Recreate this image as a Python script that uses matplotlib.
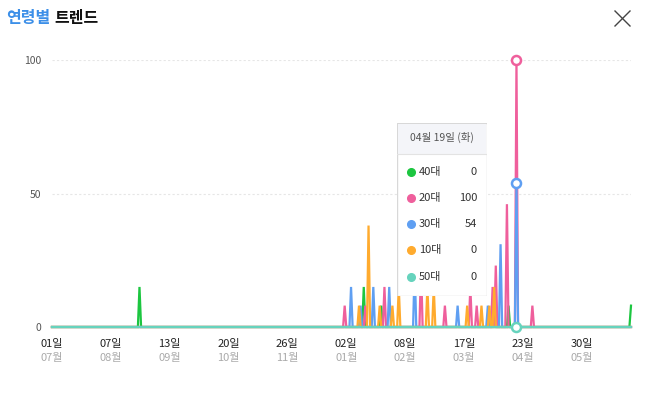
import matplotlib
matplotlib.use("Agg")
import matplotlib.pyplot as plt
from matplotlib.lines import Line2D
from matplotlib.patches import Rectangle
import numpy as np

plt.rcParams['font.family'] = ['Noto Sans CJK KR', 'DejaVu Sans']

# daily series, 2021-07-01 .. 2022-06-30 (365 days); only non-zero days listed
n_days = 365
series_names = ['40대', '20대', '30대', '10대', '50대']
series_colors = ['#1cc640', '#ef5f9c', '#5f9ff2', '#ffab2e', '#66d3bd']

spike_days_40 = [55, 196, 207, 287, 364]
spike_vals_40 = [15, 15, 8, 8, 8]
spike_days_20 = [184, 197, 209, 232, 247, 263, 267, 277, 279, 286, 292, 302]
spike_vals_20 = [8, 8, 15, 23, 8, 15, 8, 15, 23, 46, 100, 8]
spike_days_30 = [188, 194, 202, 212, 228, 255, 274, 282, 292]
spike_vals_30 = [15, 8, 15, 15, 23, 8, 8, 31, 54]
spike_days_10 = [193, 199, 206, 214, 218, 236, 240, 261, 270, 275, 278]
spike_vals_10 = [8, 38, 8, 8, 15, 15, 15, 8, 8, 8, 15]
spike_days_50 = []
spike_vals_50 = []

tick_days = [0, 37, 74, 111, 148, 185, 222, 259, 296, 333]
tick_day_labels = ['01일', '07일', '13일', '20일', '26일', '02일', '08일', '17일', '23일', '30일']
tick_month_labels = ['07월', '08월', '09월', '10월', '11월', '01월', '02월', '03월', '04월', '05월']

hover_day = 292
tooltip_title = '04월 19일 (화)'
tooltip_values = [0, 100, 54, 0, 0]


def build(days, vals):
    y = np.zeros(n_days)
    for d, v in zip(days, vals):
        y[d] = v
    return y


data = [build(spike_days_40, spike_vals_40), build(spike_days_20, spike_vals_20),
        build(spike_days_30, spike_vals_30), build(spike_days_10, spike_vals_10),
        build(spike_days_50, spike_vals_50)]

W, H = 658, 393
fig = plt.figure(figsize=(W / 100, H / 100), dpi=100)
fig.patch.set_facecolor('white')

ax = fig.add_axes([52 / W, (H - 327) / H, (631 - 52) / W, (327 - 60) / H])
x = np.arange(n_days)
for y, c in zip(data, series_colors):
    ax.plot(x, y, color=c, lw=1.6, clip_on=False, solid_joinstyle='miter')

ax.set_xlim(0, n_days - 1)
ax.set_ylim(0, 100)
for s in ax.spines.values():
    s.set_visible(False)
ax.set_yticks([0, 50, 100])
ax.set_yticklabels(['0', '50', '100'], fontsize=7.5, color='#555555')
ax.tick_params(axis='y', length=0, pad=8)
ax.set_xticks([])
for yv in [50, 100]:
    ax.axhline(yv, color='#e6e6e6', lw=0.8, ls=(0, (2, 2)), zorder=0)

for d, dl, ml in zip(tick_days, tick_day_labels, tick_month_labels):
    ax.annotate(dl, (d, 0), xytext=(0, -12), textcoords='offset points',
                ha='center', va='center', fontsize=8, color='#222222', annotation_clip=False)
    ax.annotate(ml, (d, 0), xytext=(0, -22), textcoords='offset points',
                ha='center', va='center', fontsize=8, color='#aaaaaa', annotation_clip=False)

# hover markers
for i in [1, 2, 4]:
    ax.plot(hover_day, data[i][hover_day], 'o', ms=6.5, mfc='white', mec=series_colors[i],
            mew=1.8, clip_on=False, zorder=5)

# title and close button
fig.text(6 / W, 1 - 18 / H, '연령별', color='#3c8fe8', fontsize=11.5, fontweight='bold', va='center')
fig.text(54 / W, 1 - 18 / H, '트렌드', color='#111111', fontsize=11.5, fontweight='bold', va='center')
fig.add_artist(Line2D([615 / W, 630 / W], [1 - 11 / H, 1 - 26 / H], color='#444444', lw=1))
fig.add_artist(Line2D([615 / W, 630 / W], [1 - 26 / H, 1 - 11 / H], color='#444444', lw=1))

# tooltip
tx0, ty0, tx1, ty1 = 397, 123, 487, 296
tax = fig.add_axes([tx0 / W, (H - ty1) / H, (tx1 - tx0) / W, (ty1 - ty0) / H], zorder=10)
tax.set_xlim(0, tx1 - tx0)
tax.set_ylim(ty1 - ty0, 0)
tax.axis('off')
tax.add_patch(Rectangle((0, 0), tx1 - tx0, ty1 - ty0, fc='white', ec='#d8d8d8', lw=1))
tax.add_patch(Rectangle((0.5, 0.5), tx1 - tx0 - 1, 30, fc='#f4f5f9', ec='none'))
tax.plot([0, tx1 - tx0], [30.5, 30.5], color='#e3e3e3', lw=0.8)
tax.text((tx1 - tx0) / 2, 14, tooltip_title, ha='center', va='center', fontsize=7.5, color='#555555')
row_y = [49, 75, 101, 127, 154]
for ry, nm, c, v in zip(row_y, series_names, series_colors, tooltip_values):
    tax.plot(14, ry, 'o', ms=5.5, color=c)
    tax.text(22, ry, nm, ha='left', va='center', fontsize=8, color='#333333')
    tax.text(80, ry, str(v), ha='right', va='center', fontsize=8, color='#333333')

fig.savefig('out.png', dpi=100)
